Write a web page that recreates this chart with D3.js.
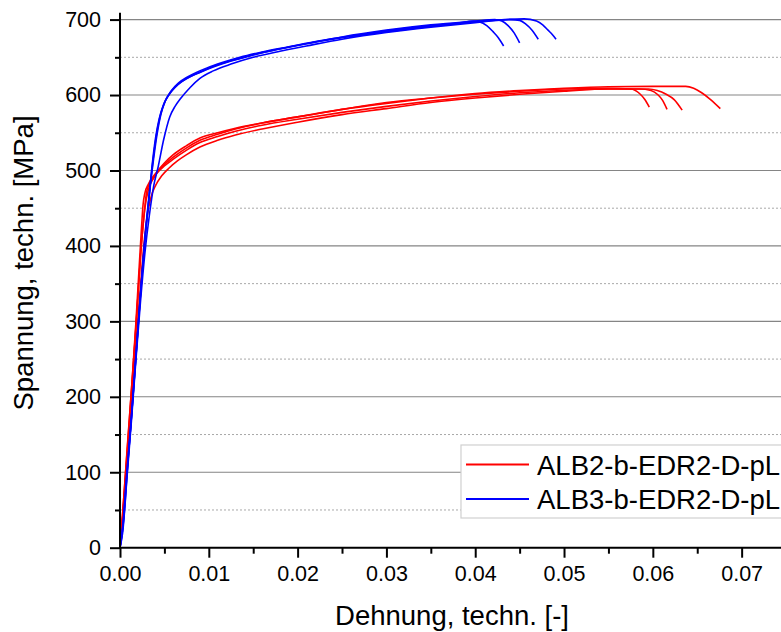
<!DOCTYPE html>
<html>
<head>
<meta charset="utf-8">
<script src="https://cdn.jsdelivr.net/npm/d3@7/dist/d3.min.js"></script>
<style>
  html, body { margin: 0; padding: 0; background: #fff; }
  svg { display: block; font-family: Arial, "Liberation Sans", sans-serif; }
</style>
</head>
<body>
<svg id="chart" width="781" height="632"></svg>
<script>
// Tensile test curves: engineering strain [-] vs. engineering stress [MPa]
// ALB2-b-EDR2-D-pL specimens
const alb2_1 = [[0,0],[0.0002,30],[0.0006,95],[0.001,160],[0.0014,228],[0.0018,300],[0.0021,360],[0.0024,420],[0.0026,455],[0.0028,470],[0.0032,482],[0.004,496],[0.005,510],[0.006,521],[0.0075,533],[0.009,543],[0.011,550],[0.013,556],[0.016,563],[0.02,571],[0.025,581],[0.03,590],[0.035,596],[0.04,601],[0.045,605],[0.05,608],[0.055,609],[0.0575,608],[0.0585,602],[0.0591,594],[0.0596,584]];
const alb2_2 = [[0,0],[0.0003,40],[0.0007,105],[0.0011,170],[0.0015,240],[0.0019,310],[0.0023,385],[0.0027,440],[0.003,472],[0.0034,484],[0.0042,497],[0.005,506],[0.006,515],[0.0075,527],[0.009,537],[0.011,545],[0.013,552],[0.016,560],[0.02,568],[0.025,577],[0.03,585],[0.035,592],[0.04,598],[0.045,603],[0.05,606],[0.055,608],[0.0585,608],[0.0598,606],[0.0606,600],[0.0611,593],[0.0616,581]];
const alb2_3 = [[0,0],[0.0002,25],[0.0007,100],[0.0012,180],[0.0017,255],[0.0022,330],[0.0026,390],[0.003,435],[0.0035,465],[0.004,480],[0.0047,493],[0.0055,503],[0.0065,513],[0.0075,521],[0.009,531],[0.011,540],[0.013,547],[0.016,555],[0.02,564],[0.025,574],[0.03,582],[0.035,590],[0.04,596],[0.045,601],[0.05,605],[0.055,608],[0.0595,608],[0.0605,606],[0.0615,601],[0.0624,594],[0.0633,580]];
const alb2_4 = [[0,0],[0.0003,45],[0.0008,130],[0.0012,195],[0.0016,260],[0.002,330],[0.0024,400],[0.0028,450],[0.0032,475],[0.0038,490],[0.0045,502],[0.0055,513],[0.0065,522],[0.0075,530],[0.009,540],[0.011,548],[0.013,555],[0.016,563],[0.02,571],[0.025,581],[0.03,589],[0.035,596],[0.04,602],[0.045,606],[0.05,609],[0.055,611],[0.06,611.5],[0.0637,611.5],[0.0646,609],[0.0655,603],[0.0665,594],[0.0676,582]];

// ALB3-b-EDR2-D-pL specimens
const alb3_1 = [[0,0],[0.0003,25],[0.0007,90],[0.0012,160],[0.0017,240],[0.0022,320],[0.0027,395],[0.0032,455],[0.0036,505],[0.004,543],[0.0044,568],[0.0049,587],[0.0055,600],[0.0062,610],[0.007,618],[0.008,625],[0.009,630],[0.0105,637],[0.0125,645],[0.015,653],[0.0175,660],[0.02,666],[0.025,676],[0.03,684],[0.035,691],[0.038,695],[0.0398,698],[0.0405,697],[0.0413,692],[0.042,684],[0.0426,676],[0.0432,665]];
const alb3_2 = [[0,0],[0.0004,40],[0.0008,100],[0.0013,175],[0.0018,255],[0.0023,335],[0.0028,410],[0.0033,470],[0.0037,512],[0.0041,547],[0.0045,571],[0.005,590],[0.0057,604],[0.0065,614],[0.0075,622],[0.0085,628],[0.0095,633],[0.011,640],[0.013,647],[0.0155,655],[0.018,661],[0.021,668],[0.025,677],[0.03,686],[0.035,693],[0.04,698],[0.0422,700],[0.043,698],[0.0437,692],[0.0444,682],[0.045,669]];
const alb3_3 = [[0,0],[0.0003,20],[0.0008,95],[0.0013,170],[0.0018,250],[0.0023,325],[0.0028,390],[0.0033,440],[0.0038,480],[0.0043,505],[0.0049,540],[0.0056,571],[0.0062,585],[0.0068,595],[0.0079,610],[0.009,622],[0.0105,632],[0.0125,641],[0.015,650],[0.018,658],[0.021,665],[0.025,674],[0.03,683],[0.035,690],[0.04,696],[0.044,700],[0.045,699],[0.0457,694],[0.0464,686],[0.0471,674]];
const alb3_4 = [[0,0],[0.0004,35],[0.0009,115],[0.0014,190],[0.0019,270],[0.0024,350],[0.0029,420],[0.0034,478],[0.0038,517],[0.0042,550],[0.0046,574],[0.0051,592],[0.0058,606],[0.0066,616],[0.0076,624],[0.0086,630],[0.0098,636],[0.0115,643],[0.0135,650],[0.016,657],[0.019,664],[0.0225,672],[0.027,680],[0.032,688],[0.037,694],[0.042,699],[0.0455,701],[0.0469,698],[0.0476,693],[0.0482,686],[0.0487,680],[0.0491,674]];

const seriesNames = ["ALB2-b-EDR2-D-pL", "ALB3-b-EDR2-D-pL"];
const seriesColors = ["#ff0000", "#0000ff"];
const seriesCurves = [[alb2_1, alb2_2, alb2_3, alb2_4], [alb3_1, alb3_2, alb3_3, alb3_4]];

const xMajorTicks = [0, 0.01, 0.02, 0.03, 0.04, 0.05, 0.06, 0.07];
const xMinorTicks = [0.005, 0.015, 0.025, 0.035, 0.045, 0.055, 0.065];
const yMajorTicks = [0, 100, 200, 300, 400, 500, 600, 700];
const yMinorTicks = [50, 150, 250, 350, 450, 550, 650];

const xTitle = "Dehnung, techn. [-]";
const yTitle = "Spannung, techn. [MPa]";

// Plot frame
const plotLeft = 120, plotRight = 781.6, plotTop = 12.8, plotBottom = 547.7;
const svg = d3.select("#chart");

const x = d3.scaleLinear().domain([0, 0.0745]).range([plotLeft, plotRight]);
const y = d3.scaleLinear().domain([0, 709]).range([plotBottom, plotTop]);

// Grid lines
const grid = svg.append("g");
grid.append("g").selectAll("line").data(yMajorTicks.filter(d => d > 0)).join("line")
  .attr("x1", plotLeft).attr("x2", 781)
  .attr("y1", d => y(d)).attr("y2", d => y(d))
  .attr("stroke", "#858585").attr("stroke-width", 1.1);
grid.append("g").selectAll("line").data(yMinorTicks).join("line")
  .attr("x1", plotLeft).attr("x2", 781)
  .attr("y1", d => y(d)).attr("y2", d => y(d))
  .attr("stroke", "#a8a8a8").attr("stroke-width", 1)
  .attr("stroke-dasharray", "2,2");

// Curves
svg.append("clipPath").attr("id", "plotClip")
  .append("rect").attr("x", plotLeft).attr("y", plotTop)
  .attr("width", 781 - plotLeft).attr("height", plotBottom - plotTop);

const line = d3.line()
  .x(d => x(d[0])).y(d => y(d[1]))
  .curve(d3.curveMonotoneX);

const curves = svg.append("g").attr("clip-path", "url(#plotClip)");
seriesCurves.forEach((group, i) => {
  curves.append("g").selectAll("path").data(group).join("path")
    .attr("d", line)
    .attr("fill", "none")
    .attr("stroke", seriesColors[i])
    .attr("stroke-width", 1.6)
    .attr("stroke-linejoin", "round");
});

// Axes
const fmtX = d3.format(".2f");
const xAxis = svg.append("g").attr("transform", `translate(0,${plotBottom})`)
  .call(d3.axisBottom(x).tickValues(xMajorTicks).tickFormat(fmtX).tickSize(10).tickPadding(8));
const xMinor = svg.append("g").attr("transform", `translate(0,${plotBottom})`)
  .call(d3.axisBottom(x).tickValues(xMinorTicks).tickFormat("").tickSize(6));
const yAxis = svg.append("g").attr("transform", `translate(${plotLeft},0)`)
  .call(d3.axisLeft(y).tickValues(yMajorTicks).tickFormat(d3.format("d")).tickSize(10).tickPadding(9));
const yMinor = svg.append("g").attr("transform", `translate(${plotLeft},0)`)
  .call(d3.axisLeft(y).tickValues(yMinorTicks).tickFormat("").tickSize(5));

[xAxis, xMinor, yAxis, yMinor].forEach(g => {
  g.select(".domain").remove();
  g.selectAll(".tick line").attr("stroke", "#000").attr("stroke-width", 2);
  g.selectAll(".tick text").attr("fill", "#000")
    .style("font-family", 'Arial, "Liberation Sans", sans-serif')
    .style("font-size", "21.5px");
});

// Axis lines
svg.append("line").attr("x1", plotLeft).attr("x2", plotLeft).attr("y1", plotTop).attr("y2", plotBottom + 1)
  .attr("stroke", "#000").attr("stroke-width", 2);
svg.append("line").attr("x1", plotLeft - 1).attr("x2", 781).attr("y1", plotBottom).attr("y2", plotBottom)
  .attr("stroke", "#000").attr("stroke-width", 2);

// Axis titles
svg.append("text").attr("x", 452).attr("y", 625)
  .attr("text-anchor", "middle").style("font-size", "27.5px").attr("fill", "#000")
  .text(xTitle);
svg.append("text").attr("transform", "translate(33,263) rotate(-90)")
  .attr("text-anchor", "middle").style("font-size", "27.5px").attr("fill", "#000")
  .text(yTitle);

// Legend
const legend = svg.append("g");
legend.append("rect").attr("x", 461).attr("y", 445).attr("width", 340).attr("height", 73)
  .attr("fill", "#fff").attr("stroke", "#d0d0d0").attr("stroke-width", 1.2);
seriesNames.forEach((name, i) => {
  const ly = 464.5 + i * 34.5;
  legend.append("line").attr("x1", 466).attr("x2", 529).attr("y1", ly).attr("y2", ly)
    .attr("stroke", seriesColors[i]).attr("stroke-width", 2);
  legend.append("text").attr("x", 537).attr("y", ly + 10)
    .style("font-size", "27.5px").attr("fill", "#000").text(name);
});
</script>
</body>
</html>
